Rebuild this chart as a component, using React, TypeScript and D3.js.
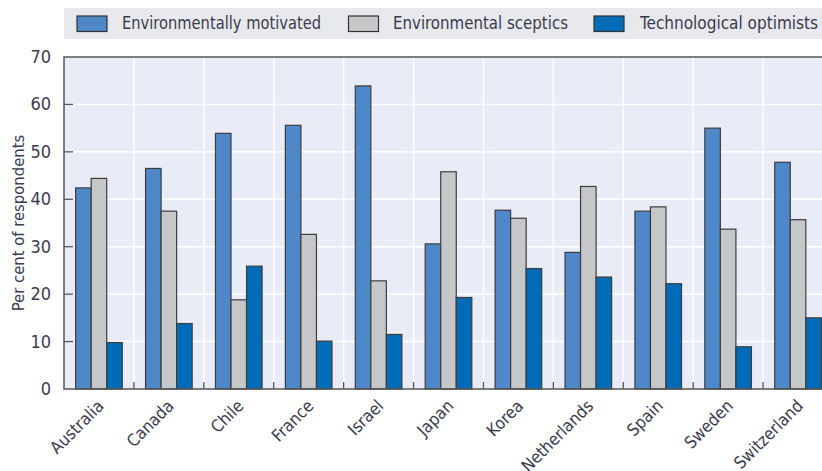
import React from "react";
import * as d3 from "d3";

const countries = ["Australia","Canada","Chile","France","Israel","Japan","Korea","Netherlands","Spain","Sweden","Switzerland"];
const seriesNames = ["Environmentally motivated","Environmental sceptics","Technological optimists"];
const motivated = [42.4,46.5,53.9,55.6,63.9,30.6,37.7,28.8,37.5,55.0,47.8];
const sceptics = [44.4,37.5,18.8,32.6,22.8,45.8,36.0,42.7,38.4,33.7,35.7];
const optimists = [9.8,13.8,25.9,10.1,11.5,19.3,25.4,23.6,22.2,8.9,15.0];
const yTicks = [0,10,20,30,40,50,60,70];
const colors = ["#4f88c8","#c6c7c9","#006cb7"];

const FONT = "'Liberation Sans Narrow', 'Arial Narrow', 'DejaVu Sans Condensed', sans-serif";

export default function App() {
  const W = 822, H = 471;
  const left = 64, right = 833, top = 57, bottom = 389;
  const x = d3.scaleBand<string>().domain(countries).range([left, right]).padding(0);
  const inner = d3.scaleBand<string>().domain(seriesNames).range([0, x.step()]).paddingInner(0).paddingOuter(0.75);
  const y = d3.scaleLinear().domain([0, 70]).range([bottom, top]);
  const data = [motivated, sceptics, optimists];
  const textColor = "#3b3b4f";

  const legendItems = [
    { sx: 77, tx: 122, tw: 199 },
    { sx: 348.5, tx: 393, tw: 175 },
    { sx: 594, tx: 640, tw: 178 },
  ];

  return (
    <svg width={W} height={H} style={{ position: "absolute", left: 0, top: 0 }}>
      {/* legend */}
      <rect x={64} y={8} width={W - 64} height={31} fill="#e8e9ec" />
      {seriesNames.map((s, i) => (
        <g key={s}>
          <rect x={legendItems[i].sx} y={16} width={30} height={15.5} fill={colors[i]} stroke="#333" strokeWidth={1.2} />
          <text x={legendItems[i].tx} y={29} fontFamily={FONT} fontSize={17.5} fill={textColor}
            textLength={legendItems[i].tw} lengthAdjust="spacingAndGlyphs">{s}</text>
        </g>
      ))}

      {/* plot background */}
      <rect x={left} y={top} width={right - left} height={bottom - top} fill="#e9ecf6" />
      {/* horizontal grid */}
      {yTicks.filter(t => t > 0 && t < 70).map(t => (
        <line key={t} x1={left} x2={right} y1={y(t)} y2={y(t)} stroke="#ffffff" strokeWidth={1.5} />
      ))}
      {/* vertical grid at category boundaries */}
      {countries.slice(1).map(c => (
        <line key={c} x1={x(c)!} x2={x(c)!} y1={top} y2={bottom} stroke="#ffffff" strokeWidth={1.5} />
      ))}
      {/* bars */}
      {countries.map((c, ci) => (
        <g key={c}>
          {seriesNames.map((s, si) => {
            const v = data[si][ci];
            return (
              <rect key={s} x={x(c)! + inner(s)!} y={y(v)} width={inner.bandwidth()} height={y(0) - y(v)}
                fill={colors[si]} stroke="#3d3d3d" strokeWidth={1.2} />
            );
          })}
        </g>
      ))}
      {/* frame */}
      <rect x={left} y={top} width={right - left} height={bottom - top} fill="none" stroke="#555" strokeWidth={1.5} />
      {/* y ticks */}
      {yTicks.filter(t => t > 0 && t < 70).map(t => (
        <line key={"yt" + t} x1={left} x2={left + 9} y1={y(t)} y2={y(t)} stroke="#555" strokeWidth={1.3} />
      ))}
      {/* x ticks */}
      {countries.slice(1).map(c => (
        <line key={"xt" + c} x1={x(c)!} x2={x(c)!} y1={bottom} y2={bottom - 7} stroke="#555" strokeWidth={1.3} />
      ))}
      {/* y tick labels */}
      {yTicks.map(t => (
        <text key={"yl" + t} x={51} y={y(t) + 6} textAnchor="end" fontFamily={FONT} fontSize={18} fill={textColor}>{t}</text>
      ))}
      {/* y title */}
      <text transform={`translate(24,${(top + bottom) / 2 + 0}) rotate(-90)`} textAnchor="middle" fontFamily={FONT} fontSize={16.5} fill={textColor}>
        Per cent of respondents
      </text>
      {/* x labels */}
      {countries.map(c => {
        const cx = x(c)! + x.bandwidth() / 2;
        return (
          <text key={"xl" + c} transform={`translate(${cx + 6},${bottom + 18}) rotate(-45)`} textAnchor="end"
            fontFamily={FONT} fontSize={17} fill={textColor}>{c}</text>
        );
      })}
    </svg>
  );
}
